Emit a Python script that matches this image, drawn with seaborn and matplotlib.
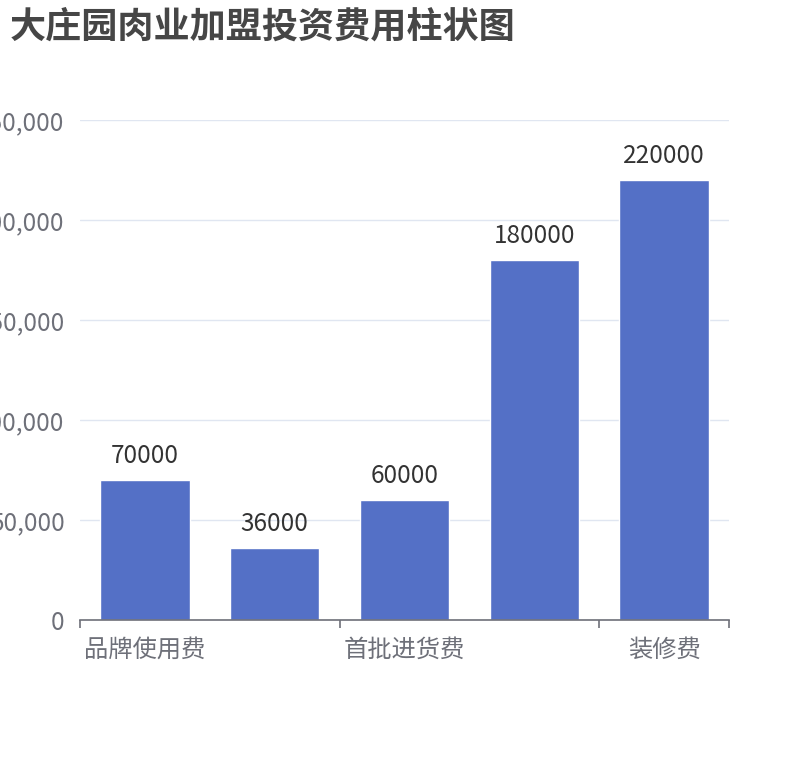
import pandas as pd
import matplotlib
matplotlib.use("Agg")
import matplotlib.pyplot as plt
import seaborn as sns
from matplotlib.ticker import FuncFormatter

# data
categories = ["品牌使用费", "加盟保证金", "首批进货费", "设备费", "装修费"]
costs = [70000, 36000, 60000, 180000, 220000]
shown_labels = ["品牌使用费", "", "首批进货费", "", "装修费"]

df = pd.DataFrame({"项目": categories, "费用": costs})

sns.set_style("white")
plt.rcParams['font.family'] = ['Noto Sans CJK SC', 'DejaVu Sans']

fig = plt.figure(figsize=(8.1, 7.6), dpi=100)
ax = fig.add_axes([80 / 810, 140 / 760, 649 / 810, 500 / 760])

sns.barplot(data=df, x="项目", y="费用", color="#5470c6", saturation=1,
            width=0.69, ax=ax)

ax.set_ylim(0, 250000)
ax.set_xlim(-0.5, len(categories) - 0.5)
ax.set_yticks(range(0, 250001, 50000))
ax.yaxis.set_major_formatter(FuncFormatter(lambda v, _: f"{int(v):,}"))
ax.grid(axis="y", color="#e0e6f1", linewidth=1)
ax.set_axisbelow(True)

for s in ["top", "right", "left"]:
    ax.spines[s].set_visible(False)
ax.spines["bottom"].set_color("#6e7079")
ax.spines["bottom"].set_linewidth(1.2)

ax.set_xticks(range(len(categories)))
ax.set_xticklabels(shown_labels)
ax.set_xticks([-0.5, 1.5, 3.5, 4.5], minor=True)
ax.tick_params(axis="x", which="major", bottom=False, length=0, pad=12,
               labelsize=17.5, labelcolor="#6e7079")
ax.tick_params(axis="x", which="minor", bottom=True, length=6, width=1.2,
               color="#6e7079")
ax.tick_params(axis="y", length=0, pad=11, labelsize=17.5, labelcolor="#6e7079")

ax.bar_label(ax.containers[0], labels=[str(v) for v in costs], padding=8,
             fontsize=17.5, color="#333333")

ax.set_xlabel("")
ax.set_ylabel("")

fig.text(10 / 810, 1 - 27 / 760, "大庄园肉业加盟投资费用柱状图", fontsize=26,
         fontweight="bold", color="#464646", va="center", ha="left")

fig.savefig("out.png", dpi=100)
